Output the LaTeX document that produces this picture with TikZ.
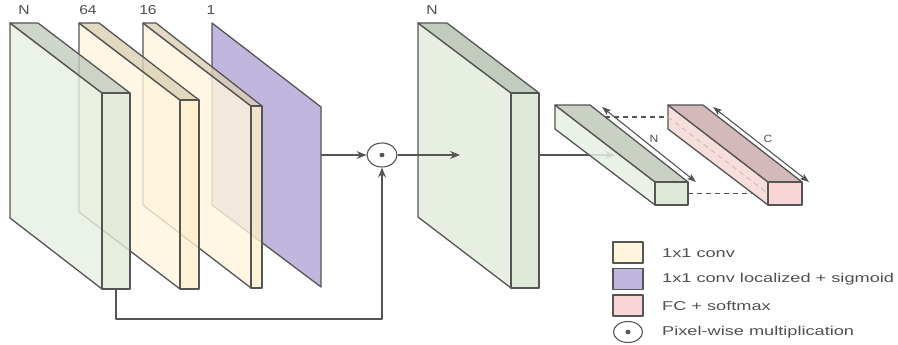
\documentclass[tikz,border=0pt]{standalone}
\usepackage{fontspec}
\usepackage{graphicx}
\setmainfont{Liberation Sans}
\usetikzlibrary{arrows.meta,shapes.geometric}
\definecolor{lc}{HTML}{555555}
\definecolor{tc}{HTML}{505050}
\definecolor{gface}{HTML}{E6EFE2}
\definecolor{gtop}{HTML}{C2CCBE}
\definecolor{gfront}{HTML}{DEEAD7}
\definecolor{yface}{HTML}{FFF5DC}
\definecolor{ytop}{HTML}{DCD0B4}
\definecolor{yfront}{HTML}{FFEFCC}
\definecolor{pface}{HTML}{C1B6DD}
\definecolor{rface}{HTML}{F6DEDD}
\definecolor{rtop}{HTML}{D3B9BA}
\definecolor{rfront}{HTML}{F8D5D6}
\definecolor{rdash}{HTML}{D9B8BA}
\newcommand\wtxt[2]{\scalebox{#1}[1]{#2}}
\begin{document}
\begin{tikzpicture}[x=1pt,y=-1pt,line join=round,
  edge/.style={draw=lc,line width=1.3pt},
  facebox/.style={edge,fill opacity=0.8},
  conn/.style={draw=lc,line width=1.1pt},
  arr/.style={conn,-{Stealth[length=10pt,width=8pt,inset=3.5pt]}},
  darr/.style={conn,{Stealth[length=9pt,width=6.5pt,inset=2pt]}-{Stealth[length=9pt,width=6.5pt,inset=2pt]}},
  dsh/.style={draw=lc,line width=1.1pt,dash pattern=on 5pt off 4pt},
  toplab/.style={text=tc,font=\fontsize{13}{15}\selectfont,inner sep=0pt},
  barlab/.style={text=tc,font=\fontsize{10.5}{12}\selectfont,inner sep=0pt},
  leglab/.style={text=tc,font=\fontsize{12.8}{14}\selectfont,inner sep=0pt,anchor=west},
  legbox/.style={edge,line width=1.1pt,minimum width=30pt,minimum height=21pt,inner sep=0pt},
  mult/.style={ellipse,draw=lc,line width=1.1pt,fill=white,minimum width=30pt,minimum height=24pt,inner sep=0pt}
]
\useasboundingbox (0,0) rectangle (898,345);

% purple plane (1)
\fill[pface] (212,23) -- (321,107) -- (321,287) -- (212,205) -- cycle;
\draw[edge] (212,23) -- (321,107) -- (321,287) -- (212,205) -- cycle;

% slab 16
\path[facebox,fill=yface] (143,23) -- (251,106) -- (251,288) -- (143,205) -- cycle;
\path[facebox,fill=ytop] (143,23) -- (156,23) -- (262,106) -- (251,106) -- cycle;
\path[facebox,fill=yfront] (251,106) rectangle (262,288);

% slab 64
\path[facebox,fill=yface] (79,23) -- (180,100) -- (180,289) -- (79,212) -- cycle;
\path[facebox,fill=ytop] (79,23) -- (99,23) -- (199,100) -- (180,100) -- cycle;
\path[facebox,fill=yfront] (180,100) rectangle (199,289);

% slab N (input)
\path[facebox,fill=gface] (10,23) -- (102,93) -- (102,289) -- (10,218) -- cycle;
\path[facebox,fill=gtop] (10,23) -- (38,23) -- (130,93) -- (102,93) -- cycle;
\path[facebox,fill=gfront] (102,93) rectangle (130,289);

% big slab N (output)
\path[edge,fill=gface] (418,23) -- (511,93) -- (511,288) -- (418,217) -- cycle;
\path[edge,fill=gtop] (418,23) -- (447,23) -- (539,93) -- (511,93) -- cycle;
\path[edge,fill=gfront] (511,93) rectangle (539,288);

% top labels
\node[toplab] (lN) at (24,10) {\wtxt{1.2}{N}};
\node[toplab] (l64) at (88,10) {\wtxt{1.2}{64}};
\node[toplab] (l16) at (148,10) {\wtxt{1.2}{16}};
\node[toplab] (l1) at (211,10) {\wtxt{1.2}{1}};
\node[toplab] (lN2) at (432,10) {\wtxt{1.2}{N}};

% connection points
\coordinate (pout) at (321,155);
\coordinate (gbot) at (116,289);
\coordinate (gcorner) at (116,319);
\coordinate (mcorner) at (382,319);
\coordinate (arrend) at (460,155);
\coordinate (bigout) at (539,155);
\coordinate (barin) at (615,155);

\node[mult] (m) at (382,155) {};
\fill[lc] (m.center) ellipse (2.6pt and 2.2pt);

\draw[arr] (pout) -- (m.west);
\draw[arr] (gbot) -- (gcorner) -- (mcorner) -- (m.south);
\draw[arr] (m.east) -- (arrend);
\draw[arr] (bigout) -- (barin);

% dashed connections
\coordinate (b1back) at (605,117);
\coordinate (b2back) at (668,117);
\coordinate (b1front) at (688,193.5);
\coordinate (b2front) at (768,193.5);
\draw[dsh] (b1back) -- (b2back);
\draw[dsh] (b1front) -- (b2front);

% bar 1 (green)
\path[facebox,fill=gface,fill opacity=0.85] (555,105) -- (655,182) -- (655,205) -- (555,129) -- cycle;
\path[facebox,fill=gtop,fill opacity=0.9] (555,105) -- (590,105) -- (688,182) -- (655,182) -- cycle;
\path[facebox,fill=gfront,fill opacity=1] (655,182) rectangle (688,205);

% bar 2 (pink)
\path[edge,fill=rface] (668,105) -- (768,182) -- (768,205) -- (668,129) -- cycle;
\path[edge,fill=rtop] (668,105) -- (703,105) -- (802,182) -- (768,182) -- cycle;
\path[edge,fill=rfront] (768,182) rectangle (802,205);
\draw[draw=rdash,line width=1pt,dash pattern=on 5pt off 4pt] (b2back) -- (b2front);

% dimension arrows
\coordinate (na) at (602,107);
\coordinate (nb) at (696,182);
\coordinate (ca) at (713,107);
\coordinate (cb) at (809,182);
\draw[darr] (na) -- (nb);
\draw[darr] (ca) -- (cb);
\node[barlab] (labN) at (654,139) {\wtxt{1.15}{N}};
\node[barlab] (labC) at (768,139) {\wtxt{1.15}{C}};

% legend
\node[legbox,fill=yface] (k1) at (628,252.5) {};
\node[legbox,fill=pface] (k2) at (628,279) {};
\node[legbox,fill=rfront] (k3) at (628,305.5) {};
\node[mult,minimum width=29pt,minimum height=21pt] (k4) at (628,332) {};
\fill[lc] (k4.center) ellipse (2.6pt and 2.2pt);
\node[leglab] (t1) at (662,253) {\wtxt{1.42}{1x1 conv}};
\node[leglab] (t2) at (662,279.5) {\wtxt{1.42}{1x1 conv localized + sigmoid}};
\node[leglab] (t3) at (662,306) {\wtxt{1.42}{FC + softmax}};
\node[leglab] (t4) at (662,332.5) {\wtxt{1.42}{Pixel-wise multiplication}};
\end{tikzpicture}
\end{document}
